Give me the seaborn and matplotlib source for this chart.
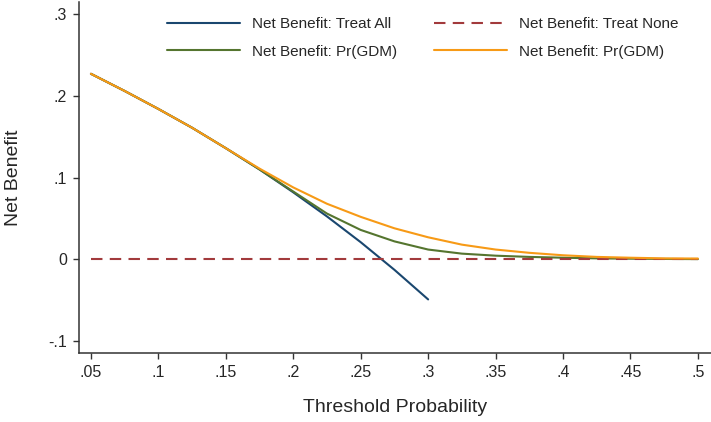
import matplotlib
matplotlib.use("Agg")
import matplotlib.pyplot as plt
import pandas as pd
import seaborn as sns

# threshold grid and net benefit values
thresh = [.05, .075, .1, .125, .15, .175, .2, .225, .25, .275, .3, .325, .35,
          .375, .4, .425, .45, .475, .5]
treat_all_x = [.05, .075, .1, .125, .15, .175, .2, .225, .25, .275, .3]
treat_all = [.227, .206, .184, .161, .136, .110, .082, .0525, .021, -.0128, -.049]
treat_none = [0.0] * len(thresh)
nb_green = [.227, .206, .184, .161, .136, .110, .083, .056, .036, .022, .012,
            .007, .0045, .003, .002, .0012, .0008, .0005, .0003]
nb_orange = [.227, .206, .184, .161, .136, .111, .088, .068, .052, .038, .027,
             .018, .012, .008, .005, .003, .002, .0012, .001]

x_ticks = [.05, .1, .15, .2, .25, .3, .35, .4, .45, .5]
x_labels = ['.05', '.1', '.15', '.2', '.25', '.3', '.35', '.4', '.45', '.5']
y_ticks = [-.1, 0, .1, .2, .3]
y_labels = ['-.1', '0', '.1', '.2', '.3']

sns.set_style('ticks')
plt.rcParams['font.family'] = ['Liberation Sans', 'DejaVu Sans']

fig = plt.figure(figsize=(7.11, 4.22), dpi=100)
ax = fig.add_axes([0.111, 0.164, 0.889, 0.831])

lw = 1.5
sns.lineplot(x=treat_all_x, y=treat_all, ax=ax, color='#1a476f', lw=lw,
             label='Net Benefit: Treat All')
sns.lineplot(x=thresh, y=nb_green, ax=ax, color='#55752f', lw=lw,
             label='Net Benefit: Pr(GDM)')
sns.lineplot(x=thresh, y=treat_none, ax=ax, color='#a23a3c', lw=lw,
             linestyle=(0, (5.5, 3.5)), label='Net Benefit: Treat None')
sns.lineplot(x=thresh, y=nb_orange, ax=ax, color='#f79a16', lw=lw,
             label='Net Benefit: Pr(GDM)')

ax.set_xlim(0.0411, 0.5097)
ax.set_ylim(-0.1143, 0.3147)
ax.set_xticks(x_ticks)
ax.set_xticklabels(x_labels)
ax.set_yticks(y_ticks)
ax.set_yticklabels(y_labels)
ax.tick_params(labelsize=11.5, length=4.5, width=1, color='#333333', pad=4)
for s in ['left', 'bottom']:
    ax.spines[s].set_color('#333333')
    ax.spines[s].set_linewidth(1.1)
sns.despine(ax=ax)

ax.set_xlabel('Threshold Probability', fontsize=14, labelpad=14)
ax.set_ylabel('Net Benefit', fontsize=14, labelpad=19)

ax.legend(ncol=2, frameon=False, fontsize=11, loc='upper left',
          bbox_to_anchor=(0.117, 0.997), handlelength=4.8, handletextpad=0.78,
          columnspacing=2.4, labelspacing=0.9)

fig.savefig('out.png', dpi=100)
